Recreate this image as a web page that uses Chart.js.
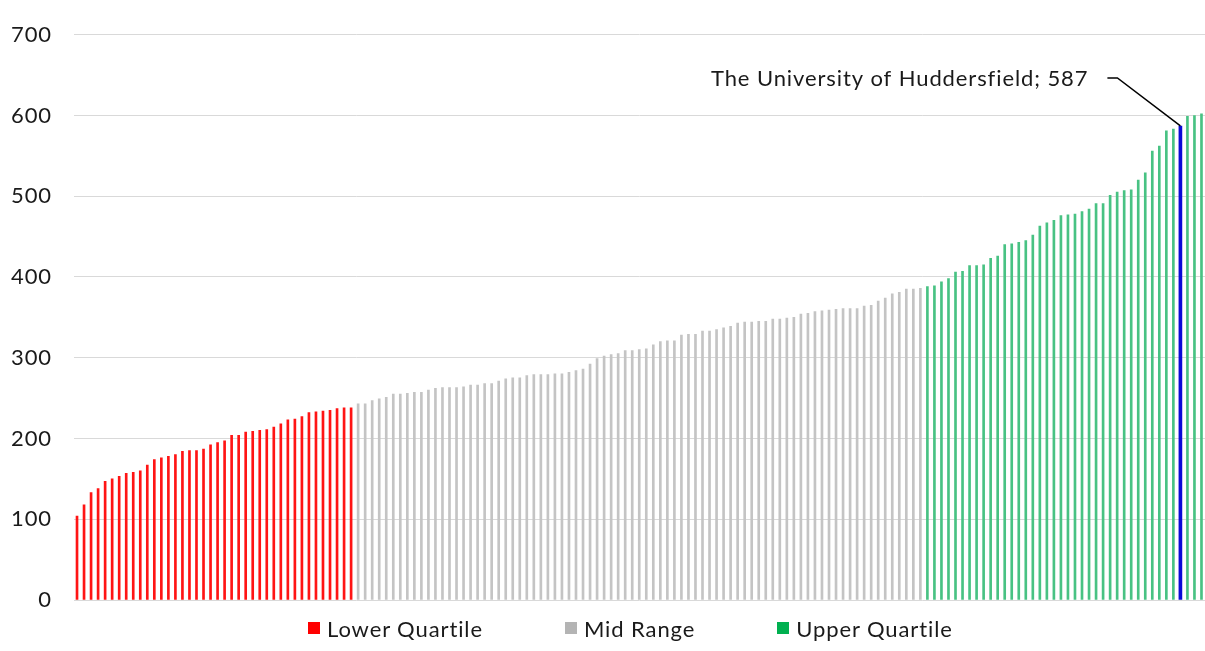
<!DOCTYPE html>
<html>
<head>
<meta charset="utf-8">
<script src="https://cdn.jsdelivr.net/npm/chart.js@4.4.1/dist/chart.umd.min.js"></script>
<style>
  html, body { margin: 0; padding: 0; background: #fff; }
  #wrap { position: relative; width: 1205px; height: 651px; }
  #legend {
    position: absolute; left: 308px; top: 615px; height: 26px;
    display: flex; align-items: center; gap: 82px;
    font: 22px Lato, sans-serif; color: #1a1a1a; letter-spacing: 0.9px;
  }
  #legend .item { display: flex; align-items: center; gap: 7px; white-space: nowrap; }
  #legend .box { width: 12px; height: 12px; }
</style>
</head>
<body>
<div id="wrap">
  <canvas id="chart" width="1205" height="651"></canvas>
  <div id="legend"></div>
</div>
<script>
// Data (sorted scores, one bar per institution)
const scores = [
  104, 118, 133, 138, 147, 150, 153, 157, 158, 160,
  167, 174, 176, 178, 180, 184, 185, 185, 187, 192,
  195, 197, 204, 204, 208, 209, 210, 211, 214, 218,
  223, 224, 227, 232, 233, 234, 235, 237, 238, 238,
  243, 243, 247, 249, 251, 255, 255, 256, 257, 257,
  260, 262, 263, 263, 263, 264, 266, 266, 268, 268,
  271, 274, 275, 275, 278, 279, 279, 279, 280, 280,
  282, 284, 286, 292, 299, 302, 304, 305, 309, 309,
  310, 311, 316, 320, 321, 321, 328, 329, 329, 333,
  333, 335, 337, 339, 343, 344, 344, 345, 345, 348,
  348, 349, 350, 354, 355, 357, 358, 359, 360, 361,
  361, 361, 364, 365, 370, 374, 379, 381, 385, 385,
  386, 388, 389, 394, 398, 406, 407, 414, 414, 415,
  423, 426, 440, 441, 443, 445, 452, 463, 467, 470,
  476, 477, 478, 481, 484, 491, 491, 501, 505, 507,
  508, 520, 529, 556, 562, 581, 583, 587, 599, 600,
  602
];
const groupNames = ['Lower Quartile', 'Mid Range', 'Upper Quartile'];
const groupSizes = [40, 81, 40];
const legendColors = ['#ff0000', '#b4b4b4', '#00b050'];
const barColors = ['#ff1414', '#c4c4c4', '#48c283'];
const highlightName = 'The University of Huddersfield';
const highlightIndex = 157;
const highlightColor = '#0a0ad6';
const yTicks = [0, 100, 200, 300, 400, 500, 600, 700];

const categories = scores.map((v, i) => i === highlightIndex ? highlightName : 'Institution ' + (i + 1));

function groupOf(i) {
  if (i < groupSizes[0]) return 0;
  if (i < groupSizes[0] + groupSizes[1]) return 1;
  return 2;
}

// highlighted bar as its own dataset (drawn wider, on top)
const highlightData = scores.map((v, i) => i === highlightIndex ? v : null);
const mainData = scores.map((v, i) => i === highlightIndex ? null : v);

// slightly wider text spacing, like the original
const spacingPlugin = {
  id: 'spacing',
  beforeInit(chart) { chart.ctx.letterSpacing = '0.9px'; },
  beforeDraw(chart) { chart.ctx.letterSpacing = '0.9px'; }
};

// callout label for the highlighted bar
const calloutPlugin = {
  id: 'callout',
  afterDatasetsDraw(chart) {
    const el = chart.getDatasetMeta(1).data[highlightIndex];
    if (!el) return;
    const ctx = chart.ctx;
    const x = el.x, y = el.y;
    ctx.save();
    ctx.strokeStyle = '#000';
    ctx.lineWidth = 1.5;
    ctx.beginPath();
    ctx.moveTo(x - 73, y - 48);
    ctx.lineTo(x - 63, y - 48);
    ctx.lineTo(x, y);
    ctx.stroke();
    ctx.fillStyle = '#1a1a1a';
    ctx.font = '22px Lato';
    ctx.letterSpacing = '0.9px';
    ctx.textAlign = 'right';
    ctx.textBaseline = 'middle';
    ctx.fillText(highlightName + '; ' + scores[highlightIndex], x - 92, y - 47);
    ctx.restore();
  }
};

const chart = new Chart(document.getElementById('chart'), {
  type: 'bar',
  data: {
    labels: categories,
    datasets: [
      {
        data: mainData,
        backgroundColor: ctx => barColors[groupOf(ctx.dataIndex)],
        barThickness: 2,
        grouped: false
      },
      {
        data: highlightData,
        backgroundColor: highlightColor,
        barThickness: 3,
        grouped: false
      }
    ]
  },
  options: {
    responsive: false,
    animation: false,
    layout: { padding: { top: 31, bottom: 51, left: 0, right: 0 } },
    plugins: { legend: { display: false }, tooltip: { enabled: false } },
    scales: {
      x: { display: false },
      y: {
        min: 0, max: 700,
        afterBuildTicks: scale => { scale.ticks = yTicks.map(v => ({ value: v })); },
        afterFit: scale => { scale.width = 73.5; },
        border: { display: false },
        grid: { color: '#d9d9d9', lineWidth: 1, drawTicks: false },
        ticks: { padding: 21.5, color: '#1a1a1a', font: { family: 'Lato', size: 22 } }
      }
    }
  },
  plugins: [spacingPlugin, calloutPlugin]
});

// HTML legend
const legend = document.getElementById('legend');
groupNames.forEach((name, i) => {
  const item = document.createElement('div');
  item.className = 'item';
  item.innerHTML = `<span class="box" style="background:${legendColors[i]}"></span><span>${name}</span>`;
  legend.appendChild(item);
});
</script>
</body>
</html>
